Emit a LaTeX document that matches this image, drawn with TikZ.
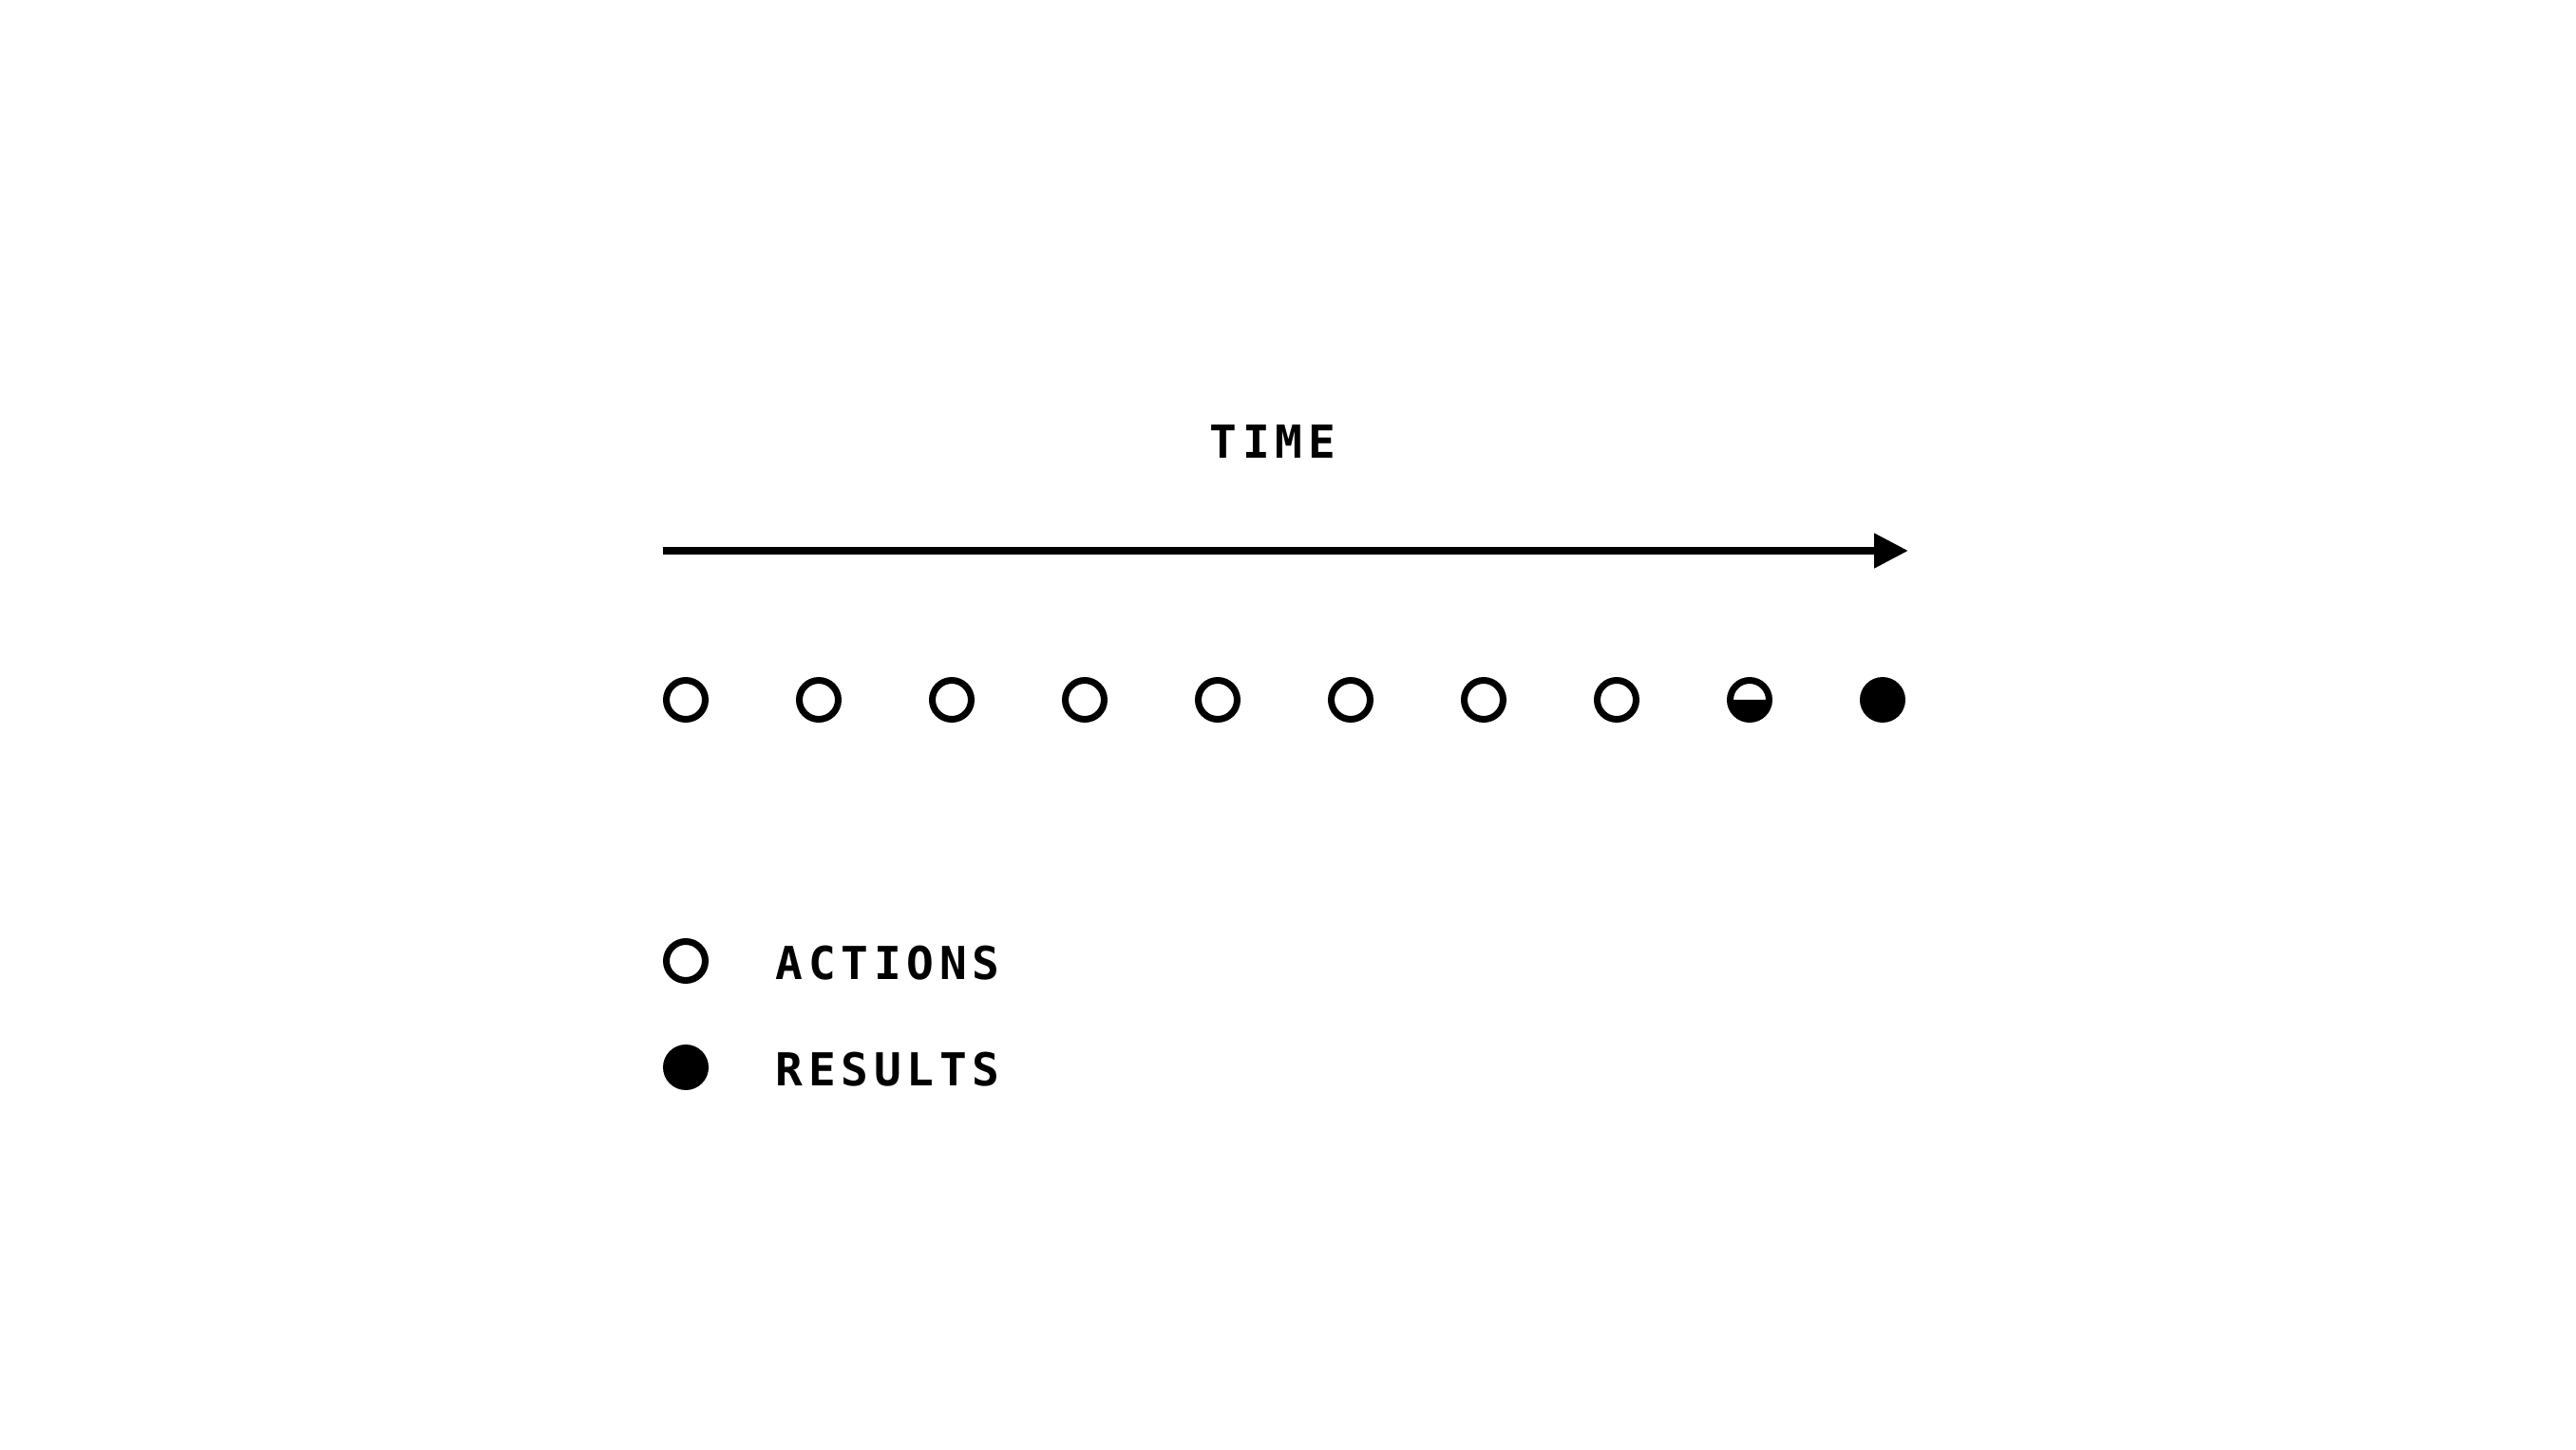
\documentclass[tikz,border=0pt]{standalone}
\usepackage{fontspec}
\setmainfont{DejaVu Sans Mono}[LetterSpace=12]
\usetikzlibrary{arrows.meta, positioning, calc}
\tikzset{
    fleche/.style={-{Triangle[length=0.36cm, width=0.35cm]}, line width=0.08cm},
    action/.style={circle, draw, line width=0.07cm, minimum size=0.41cm, inner sep=0pt},
    resultat/.style={circle, fill, minimum size=0.48cm, inner sep=0pt},
    etiquette/.style={font=\fontsize{13.6}{16}\selectfont\bfseries, inner sep=0pt},
}
\begin{document}
\begin{tikzpicture}
\useasboundingbox (0,0) rectangle (27.12,15.26);
\node[etiquette] (temps) at (13.40,10.61) {TIME};
\coordinate (debut) at (6.98,9.46);
\coordinate (fin) at (20.09,9.46);
\draw[fleche] (debut) -- (fin);
\foreach \i in {0,...,8} {\node[action] (c\i) at (7.22+1.40*\i,7.89) {};}
\fill ($(c8.center)+(-0.205,0)$) arc[start angle=180, end angle=360, radius=0.205];
\node[resultat] (c9) at (19.82,7.89) {};
% legende
\node[action] (la) at (7.22,5.14) {};
\node[resultat] (lr) at (7.22,4.02) {};
\node[etiquette, anchor=west] (ta) at (8.16,5.12) {ACTIONS};
\node[etiquette, anchor=west] (tr) at (8.16,4.00) {RESULTS};
\end{tikzpicture}
\end{document}
